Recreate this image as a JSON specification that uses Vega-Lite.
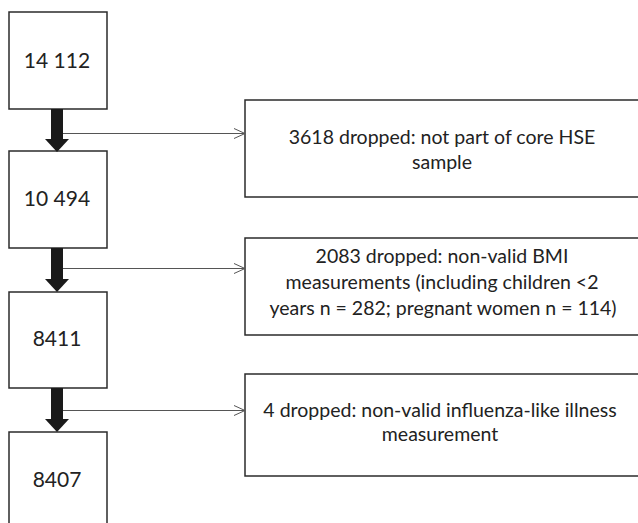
{
  "$schema": "https://vega.github.io/schema/vega-lite/v6.json",
  "width": 638,
  "height": 523,
  "autosize": {"type": "none"},
  "padding": 0,
  "background": "white",
  "config": {"view": {"stroke": null}},
  "datasets": {
    "boxes": [
      {"id": "b1", "x1": 9, "x2": 107, "y1": 12, "y2": 109},
      {"id": "b2", "x1": 9, "x2": 107, "y1": 151, "y2": 248},
      {"id": "b3", "x1": 9, "x2": 107, "y1": 292, "y2": 388},
      {"id": "b4", "x1": 9, "x2": 107, "y1": 432, "y2": 540},
      {"id": "r1", "x1": 245, "x2": 660, "y1": 100, "y2": 197},
      {"id": "r2", "x1": 245, "x2": 660, "y1": 238, "y2": 335},
      {"id": "r3", "x1": 245, "x2": 660, "y1": 374, "y2": 476}
    ],
    "labels": [
      {"side": "left", "text": "14 112", "x": 57, "y": 62},
      {"side": "left", "text": "10 494", "x": 57, "y": 200},
      {"side": "left", "text": "8411", "x": 57, "y": 340},
      {"side": "left", "text": "8407", "x": 57, "y": 481},
      {"side": "right", "text": "3618 dropped: not part of core HSE", "x": 442, "y": 138},
      {"side": "right", "text": "sample", "x": 442, "y": 163},
      {"side": "right", "text": "2083 dropped: non-valid BMI", "x": 442, "y": 257},
      {"side": "right", "text": "measurements (including children <2", "x": 442, "y": 283},
      {"side": "right", "text": "years n = 282; pregnant women n = 114)", "x": 443, "y": 309},
      {"side": "right", "text": "4 dropped: non-valid influenza-like illness", "x": 440, "y": 411},
      {"side": "right", "text": "measurement", "x": 440, "y": 435}
    ],
    "shafts": [
      {"x1": 51, "x2": 63, "y1": 109, "y2": 140},
      {"x1": 51, "x2": 63, "y1": 248, "y2": 280},
      {"x1": 51, "x2": 63, "y1": 388, "y2": 420}
    ],
    "heads": [
      {"arrow": "a1", "x": 45, "y": 139, "y2": 139},
      {"arrow": "a1", "x": 57, "y": 139, "y2": 152},
      {"arrow": "a1", "x": 69, "y": 139, "y2": 139},
      {"arrow": "a2", "x": 45, "y": 279, "y2": 279},
      {"arrow": "a2", "x": 57, "y": 279, "y2": 292},
      {"arrow": "a2", "x": 69, "y": 279, "y2": 279},
      {"arrow": "a3", "x": 45, "y": 419, "y2": 419},
      {"arrow": "a3", "x": 57, "y": 419, "y2": 432},
      {"arrow": "a3", "x": 69, "y": 419, "y2": 419}
    ],
    "thin": [
      {"x1": 63, "x2": 245, "y": 133.5},
      {"x1": 63, "x2": 245, "y": 268.5},
      {"x1": 63, "x2": 245, "y": 410.5}
    ],
    "chevrons": [
      {"arrow": "c1", "o": 1, "x": 234, "y": 128.5},
      {"arrow": "c1", "o": 2, "x": 245, "y": 133.5},
      {"arrow": "c1", "o": 3, "x": 234, "y": 138.5},
      {"arrow": "c2", "o": 1, "x": 234, "y": 263.5},
      {"arrow": "c2", "o": 2, "x": 245, "y": 268.5},
      {"arrow": "c2", "o": 3, "x": 234, "y": 273.5},
      {"arrow": "c3", "o": 1, "x": 234, "y": 405.5},
      {"arrow": "c3", "o": 2, "x": 245, "y": 410.5},
      {"arrow": "c3", "o": 3, "x": 234, "y": 415.5}
    ]
  },
  "layer": [
    {
      "data": {"name": "boxes"},
      "mark": {"type": "rect", "fill": "white", "stroke": "#2b2b2b", "strokeWidth": 1.5, "clip": true},
      "encoding": {
        "x": {"field": "x1", "type": "quantitative", "scale": {"domain": [0, 638], "nice": false, "zero": false}, "axis": null},
        "x2": {"field": "x2"},
        "y": {"field": "y1", "type": "quantitative", "scale": {"domain": [0, 523], "nice": false, "zero": false, "reverse": true}, "axis": null},
        "y2": {"field": "y2"}
      }
    },
    {
      "data": {"name": "thin"},
      "mark": {"type": "rule", "stroke": "#555555", "strokeWidth": 1},
      "encoding": {
        "x": {"field": "x1", "type": "quantitative"},
        "x2": {"field": "x2"},
        "y": {"field": "y", "type": "quantitative"}
      }
    },
    {
      "data": {"name": "chevrons"},
      "mark": {"type": "line", "stroke": "#555555", "strokeWidth": 1},
      "encoding": {
        "x": {"field": "x", "type": "quantitative"},
        "y": {"field": "y", "type": "quantitative"},
        "detail": {"field": "arrow"},
        "order": {"field": "o"}
      }
    },
    {
      "data": {"name": "shafts"},
      "mark": {"type": "rect", "fill": "#1a1a1a"},
      "encoding": {
        "x": {"field": "x1", "type": "quantitative"},
        "x2": {"field": "x2"},
        "y": {"field": "y1", "type": "quantitative"},
        "y2": {"field": "y2"}
      }
    },
    {
      "data": {"name": "heads"},
      "mark": {"type": "area", "orient": "vertical", "fill": "#1a1a1a", "opacity": 1},
      "encoding": {
        "x": {"field": "x", "type": "quantitative"},
        "y": {"field": "y", "type": "quantitative"},
        "y2": {"field": "y2"},
        "detail": {"field": "arrow"}
      }
    },
    {
      "data": {"name": "labels"},
      "transform": [{"filter": "datum.side === 'left'"}],
      "mark": {"type": "text", "font": "Lato", "fontSize": 21, "fill": "#222222", "align": "center", "baseline": "middle"},
      "encoding": {
        "x": {"field": "x", "type": "quantitative"},
        "y": {"field": "y", "type": "quantitative"},
        "text": {"field": "text"}
      }
    },
    {
      "data": {"name": "labels"},
      "transform": [{"filter": "datum.side === 'right'"}],
      "mark": {"type": "text", "font": "Lato", "fontSize": 19.5, "fill": "#222222", "align": "center", "baseline": "middle"},
      "encoding": {
        "x": {"field": "x", "type": "quantitative"},
        "y": {"field": "y", "type": "quantitative"},
        "text": {"field": "text"}
      }
    }
  ]
}
